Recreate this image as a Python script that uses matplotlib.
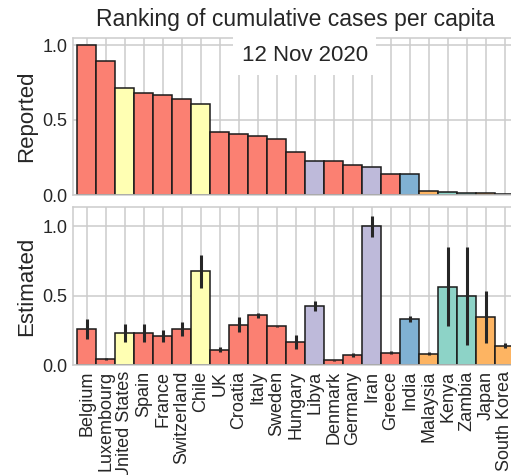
import matplotlib.pyplot as plt
import numpy as np

# --- dados ---
paises = ["Belgium", "Luxembourg", "United States", "Spain", "France",
          "Switzerland", "Chile", "UK", "Croatia", "Italy", "Sweden",
          "Hungary", "Libya", "Denmark", "Germany", "Iran", "Greece",
          "India", "Malaysia", "Kenya", "Zambia", "Japan", "South Korea"]
regioes = ["europa", "europa", "america", "europa", "europa",
           "europa", "america", "europa", "europa", "europa", "europa",
           "europa", "oriente", "europa", "europa", "oriente", "europa",
           "india", "asia", "africa", "africa", "asia", "asia"]

reportado = [1.0, 0.895, 0.715, 0.682, 0.665, 0.642, 0.609, 0.422, 0.409,
             0.391, 0.375, 0.289, 0.229, 0.225, 0.200, 0.189, 0.140, 0.140,
             0.027, 0.022, 0.016, 0.016, 0.010]

estimado = [0.257, 0.043, 0.233, 0.230, 0.206, 0.261, 0.676, 0.110, 0.290,
            0.357, 0.278, 0.168, 0.427, 0.034, 0.072, 0.998, 0.089, 0.333,
            0.082, 0.564, 0.499, 0.345, 0.139]
est_inf = [0.185, 0.038, 0.165, 0.165, 0.165, 0.209, 0.556, 0.096, 0.237,
           0.336, 0.274, 0.113, 0.388, 0.031, 0.060, 0.918, 0.078, 0.312,
           0.072, 0.278, 0.146, 0.156, 0.124]
est_sup = [0.329, 0.050, 0.297, 0.297, 0.250, 0.309, 0.791, 0.129, 0.343,
           0.376, 0.282, 0.218, 0.463, 0.037, 0.086, 1.074, 0.100, 0.350,
           0.094, 0.847, 0.849, 0.535, 0.156]

data_txt = "12 Nov 2020"

cores_regiao = {"europa": "#FB8072", "america": "#FFFFB3", "oriente": "#BEBADA",
                "india": "#80B1D3", "asia": "#FDB462", "africa": "#8DD3C7"}
cores = [cores_regiao[r] for r in regioes]

plt.rcParams["font.family"] = ["Liberation Sans", "DejaVu Sans"]
plt.rcParams["text.color"] = "#262626"
plt.rcParams["axes.labelcolor"] = "#262626"
plt.rcParams["xtick.color"] = "#262626"
plt.rcParams["ytick.color"] = "#262626"

fig = plt.figure(figsize=(5.11, 4.75), dpi=100)
W, H = 511, 475

ax1 = fig.add_axes([73 / W, (H - 195) / H, 445 / W, 157.5 / H])
ax2 = fig.add_axes([73 / W, (H - 365) / H, 445 / W, 158 / H])

x = np.arange(len(paises))


def estilo(ax):
    ax.set_facecolor("white")
    ax.set_axisbelow(True)
    ax.grid(True, color="#cccccc", linewidth=1.1)
    for s in ax.spines.values():
        s.set_color("#cccccc")
        s.set_linewidth(1.1)
    ax.tick_params(length=0, labelsize=13, pad=4)
    ax.set_xlim(-0.726, 22.69)
    ax.set_xticks(x)
    ax.set_yticks([0.0, 0.5, 1.0])


# Gráfico 1: reportado
estilo(ax1)
ax1.bar(x, reportado, width=1.0, color=cores, edgecolor="#1a1a1a", linewidth=1.1)
ax1.set_ylim(0, 1.05)
ax1.set_xticklabels([])
ax1.set_ylabel("Reported", fontsize=16)
ax1.set_title("Ranking of cumulative cases per capita", fontsize=16.5, pad=8)
ax1.text(0.521, 0.885, data_txt, transform=ax1.transAxes, fontsize=16,
         ha="center", va="center",
         bbox=dict(facecolor="white", edgecolor="none", pad=6))

# Gráfico 2: estimado
estilo(ax2)
ax2.bar(x, estimado, width=1.0, color=cores, edgecolor="#1a1a1a", linewidth=1.1)
erros = [np.array(estimado) - np.array(est_inf), np.array(est_sup) - np.array(estimado)]
ax2.errorbar(x, estimado, yerr=erros, fmt="none", ecolor="#262626",
             elinewidth=2.2, capsize=0)
ax2.set_ylim(0, 1.137)
ax2.set_xticklabels(paises, rotation=90)
ax2.set_ylabel("Estimated", fontsize=16)

fig.savefig("out.png", dpi=100)
